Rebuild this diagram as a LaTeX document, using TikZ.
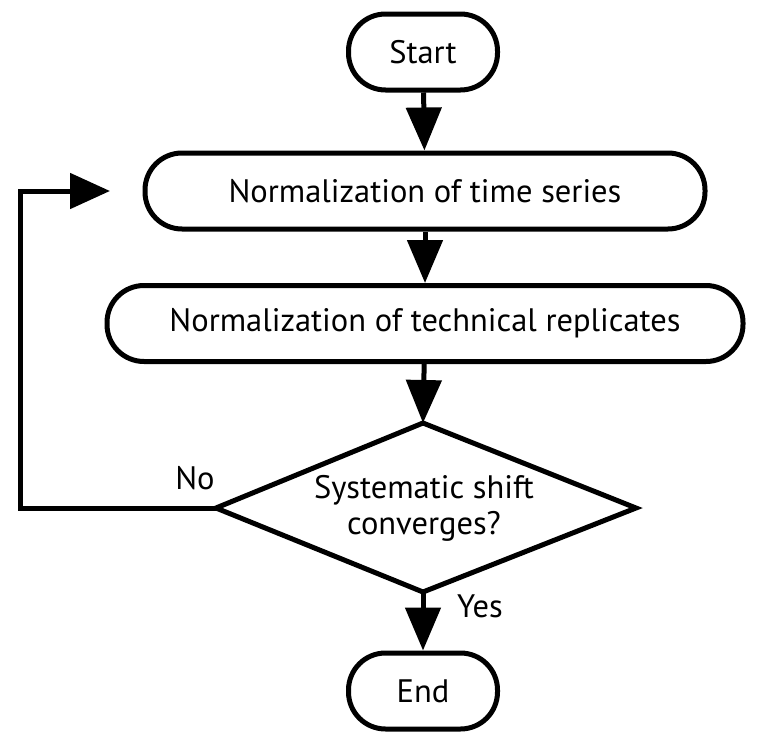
\documentclass[tikz,border=0pt]{standalone}
\usepackage{fontspec}
\setmainfont{PT Sans}
\usetikzlibrary{arrows.meta}
\begin{document}
\begin{tikzpicture}[x=1pt,y=-1pt,
  box/.style={draw,line width=5pt,rounded corners=37pt,minimum height=76pt,inner sep=0pt,font=\fontsize{32.5}{36}\selectfont},
  lbl/.style={font=\fontsize{32.5}{36}\selectfont,inner sep=0pt},
  flow/.style={line width=5pt,-{Triangle[length=43pt,width=35pt]}}]
\useasboundingbox (0,0) rectangle (761,744);
\node[box,minimum width=149pt] (start) at (423,52) {Start};
\node[box,minimum width=560pt] (ts) at (425,191) {Normalization of time series};
\node[box,minimum width=636pt] (tr) at (425,323.5) {Normalization of technical replicates};
\coordinate (dt) at (423,423);
\coordinate (dr) at (636,508);
\coordinate (db) at (423,592);
\coordinate (dl) at (216,508);
\draw[line width=5pt,line join=miter] (dt) -- (dr) -- (db) -- (dl) -- cycle;
\node[lbl,align=center] (dec) at (424,508) {Systematic shift\\converges?};
\node[box,minimum width=149pt] (end) at (423,691) {End};
\node[lbl] (no) at (195,478) {No};
\node[lbl] (yes) at (480,606) {Yes};
\coordinate (c1) at (20,508);
\coordinate (c2) at (20,191);
\coordinate (tip) at (110,191);
\draw[flow] (start) -- (ts);
\draw[flow] (ts) -- (tr);
\draw[flow] (tr) -- (dt);
\draw[flow] (db) -- (end);
\draw[flow,-{Triangle[length=40pt,width=35pt]}] (dl) -- (c1) -- (c2) -- (tip);
\end{tikzpicture}
\end{document}
